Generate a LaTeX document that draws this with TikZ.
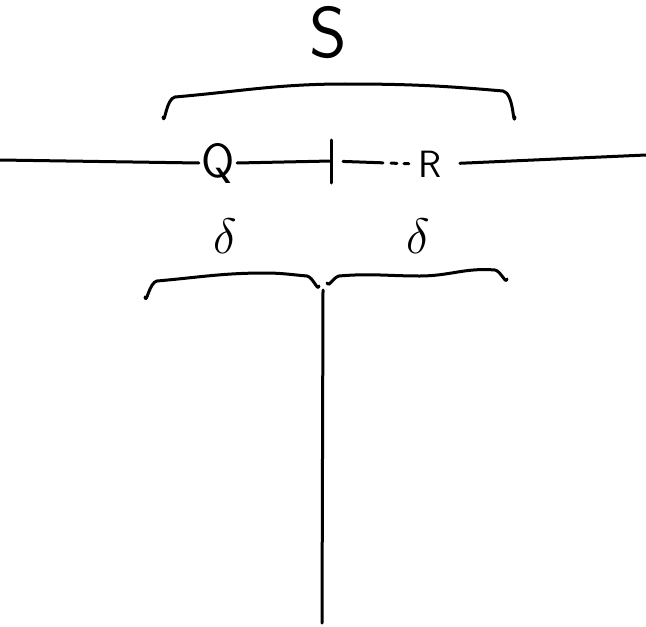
\documentclass[tikz,border=0pt]{standalone}
\usepackage{tikz}
\usetikzlibrary{
	positioning,
	calc
}

\begin{document}
\begin{tikzpicture}[x=0.5pt, y=-0.5pt,
    pen/.style={line width=1.5pt, line cap=round, line join=round},
    letter/.style={inner sep=1pt, font=\sffamily\fontsize{#1}{#1}\selectfont}]
\useasboundingbox (0,0) rectangle (646,626);

% Bracket macro
% Arguments: left-x, left-end-y, left-corner-y, peak-x, peak-y, right-corner-y, right-x, right-end-y
\def\bracket#1#2#3#4#5#6#7#8{
    \draw[pen] (#1,#2) to[out=-80, in=190] (#1+12,#3)
        to[out=5, in=180] (#4,#5)
        to[out=0, in=175] (#7-12,#6)
        to[out=-10, in=-100] (#7,#8);
}

% Labels
\node[letter=36] (S) at (328,33) {S};
\node[letter=24] (Q) at (218,163) {Q};
\node[letter=19] (R) at (430,164) {R};
\node[font=\fontsize{24}{24}\selectfont] (dl) at (225,236) {$\delta$};
\node[font=\fontsize{24}{24}\selectfont] (dr) at (418,236) {$\delta$};

% Line ends and tick mark
\coordinate (west) at (0,160);
\coordinate (east) at (646,155);
\coordinate (tick) at (331,161);
\coordinate (tickT) at (331,140);
\coordinate (tickB) at (331,183);
\coordinate (stemT) at (323,290);
\coordinate (stemB) at (322,623);

% Horizontal line
\draw[pen] (west) -- (Q.west);
\draw[pen] (Q.east) -- (tick);
\draw[pen, dash pattern=on 20pt off 4pt on 3pt off 3.5pt on 2.5pt off 30pt, shorten <=6pt] (tick) -- (R.west);
\draw[pen, shorten <=8pt] (R.east) -- (east);
\draw[pen] (tickT) -- (tickB);

% Brackets
\bracket{163}{117}{97}{345}{84}{91}{515}{117}
\bracket{145}{297}{281}{265}{273}{276}{319}{286}
\bracket{327}{283}{276}{420}{276}{270}{507}{279}

% Stem
\draw[pen] (stemT) -- (stemB);

\end{tikzpicture}
\end{document}
